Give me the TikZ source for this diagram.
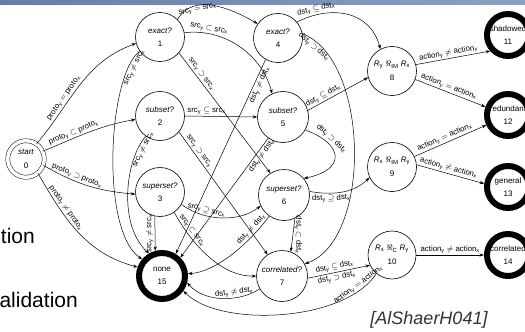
\documentclass[tikz,border=0pt]{standalone}
\usepackage{fontspec}
\setmainfont{Liberation Sans}
\usetikzlibrary{arrows.meta}
\definecolor{bandL}{RGB}{100,126,170}
\definecolor{bandR}{RGB}{140,160,196}
\newcommand{\rl}[2]{#1\textsubscript{y}~$#2$~#1\textsubscript{x}}
\begin{document}
\begin{tikzpicture}[x=1pt,y=-1pt,
  st/.style={circle,draw,line width=0.6pt,minimum size=49pt,inner sep=0pt,align=center,font=\fontsize{8}{13.5}\selectfont},
  fin/.style={circle,draw,line width=6pt,minimum size=42pt,inner sep=0pt,align=center,font=\fontsize{8}{13.5}\selectfont},
  lab/.style={font=\fontsize{7.8}{8}\selectfont,inner sep=1.2pt,sloped},
  labr/.style={font=\fontsize{7.8}{8}\selectfont,inner sep=1.2pt},
  arr/.style={line width=0.5pt,-{Stealth[length=4.5pt,width=3.2pt]}}]
\useasboundingbox (0,0) rectangle (525,332);
\clip (0,0) rectangle (525,332);
\fill[white] (0,0) rectangle (525,332);
\shade[left color=bandL,right color=bandR] (0,0) rectangle (525,4);
% slide text
\node[anchor=base east,inner sep=0pt,font=\fontsize{21}{21}\selectfont] (t1) at (35,243) {tion};
\node[anchor=base east,inner sep=0pt,font=\fontsize{21}{21}\selectfont] (t2) at (78,307) {alidation};
\node[anchor=base,inner sep=0pt,font=\itshape\fontsize{18}{18}\selectfont,text=black!80] (cite) at (429,324) {[AlShaerH041]};
% states
\node[circle,draw,line width=0.5pt,double,double distance=3.5pt,minimum size=36.5pt,inner sep=0pt,align=center,font=\fontsize{8}{13.5}\selectfont] (n0) at (26,159) {\textit{start}\\0};
\node[st] (n1) at (160,37) {\textit{exact?}\\1};
\node[st] (n2) at (160,116) {\textit{subset?}\\2};
\node[st] (n3) at (160,192) {\textit{superset?}\\3};
\node[fin,minimum size=46pt] (n15) at (162,276) {none\\15};
\node[st] (n4) at (278,38) {\textit{exact?}\\4};
\node[st,minimum size=51pt] (n5) at (283,117) {\textit{subset?}\\5};
\node[st,minimum size=51pt] (n6) at (284,195) {\textit{superset?}\\6};
\node[st,minimum size=51pt] (n7) at (282,276) {\textit{correlated?}\\7};
\node[st] (n8) at (392,71) {\textit{R}\textsubscript{y} $\Re$\textsubscript{IM} \textit{R}\textsubscript{x}\\8};
\node[st] (n9) at (392,167) {\textit{R}\textsubscript{x} $\Re$\textsubscript{IM} \textit{R}\textsubscript{y}\\9};
\node[st,minimum size=48pt] (n10) at (392,255) {\textit{R}\textsubscript{x} $\Re$\textsubscript{C} \textit{R}\textsubscript{y}\\10};
\node[fin] (n11) at (508,35) {shadowed\\11};
\node[fin] (n12) at (508,115) {redundant\\12};
\node[fin] (n13) at (508,187) {general\\13};
\node[fin] (n14) at (508,255) {correlated\\14};
% from start
\draw[arr] (n0.55) to[out=50,in=200] node[lab,above,pos=0.35]{\rl{proto}{=}} (n1.195);
\draw[arr] (n0.25) to[out=22,in=190] node[lab,above,pos=0.35]{\rl{proto}{\subset}} (n2.188);
\draw[arr] (n0.-20) to[out=-30,in=175] node[lab,above,pos=0.35]{\rl{proto}{\supset}} (n3.185);
\draw[arr] (n0.-50) to[out=-60,in=165] node[lab,above,pos=0.3]{\rl{proto}{\neq}} (n15.160);
% from 1
\draw[arr] (n1.45) to[out=60,in=150] node[lab,below,pos=0.3]{\rl{src}{=}} (n4.145);
\draw[arr] (n1.10) .. controls (225,28) and (262,55) .. (n5.115) node[lab,above,pos=0.2]{\rl{src}{\subset}};
\draw[arr] (n1.-40) -- node[lab,above,pos=0.2]{\rl{src}{\supset}} (n6.122);
\draw[arr] (n1.215) .. controls (108,75) and (100,230) .. (n15.140) node[lab,below,pos=0.12]{\rl{src}{\neq}};
% from 2
\draw[arr] (n2.east) -- node[lab,above,pos=0.3]{\rl{src}{\subseteq}} (n5.west);
\draw[arr] (n2.-40) -- node[lab,above,pos=0.18]{\rl{src}{\supset}} (n7.124);
\draw[arr] (n2.235) .. controls (125,160) and (118,225) .. (n15.120) node[lab,below,pos=0.13]{\rl{src}{\neq}};
% from 3
\draw[arr] (n3.-30) .. controls (205,222) and (240,222) .. (n6.205) node[lab,above,pos=0.3]{\rl{src}{\supseteq}};
\draw[arr] (n3.-55) .. controls (195,250) and (225,277) .. (n7.180) node[lab,above,pos=0.2]{\rl{src}{\subset}};
\draw[arr] (n3.258) -- node[labr,rotate=90,anchor=south]{\rl{src}{\neq}} (n15.105);
% from 4
\draw[arr] (n4.40) .. controls (330,5) and (370,10) .. (n8.118) node[lab,above,pos=0.2]{\rl{dst}{\subseteq}};
\draw[arr] (n4.10) .. controls (370,60) and (372,240) .. (n7.28) node[lab,below,pos=0.08]{\rl{dst}{\supset}};
\draw[arr] (n4.240) -- (n15.58) node[lab,below,pos=0.12]{\rl{dst}{\neq}};
% from 5
\draw[arr] (n5.15) -- node[lab,above,pos=0.3]{\rl{dst}{\subseteq}} (n8.195);
\draw[arr] (n5.-30) .. controls (345,145) and (345,170) .. (n6.40) node[lab,above,pos=0.25]{\rl{dst}{\supset}};
\draw[arr] (n5.235) -- (n15.45) node[lab,below,pos=0.12]{\rl{dst}{\neq}};
% from 6
\draw[arr] (n6.8) .. controls (335,196) and (355,192) .. (n9.205) node[lab,below,pos=0.3]{\rl{dst}{\supseteq}};
\draw[arr] (n6.-65) -- node[labr,rotate=-90,anchor=south]{\rl{dst}{\subset}} (n7.70);
\draw[arr] (n6.235) .. controls (248,245) and (215,272) .. (n15.5) node[lab,above,pos=0.2]{\rl{dst}{\neq}};
% from 7
\draw[arr] (n7.-5) -- node[lab,above,pos=0.45]{\rl{dst}{\subseteq}} node[lab,below,pos=0.45]{\rl{dst}{\supset}} (n10.205);
\draw[arr] (n7.210) .. controls (240,302) and (205,303) .. (n15.-15) node[lab,above,pos=0.35]{\rl{dst}{\neq}};
% from 8, 9, 10
\draw[arr] (n8.15) -- node[lab,above,pos=0.45]{\rl{action}{\neq}} (n11.222);
\draw[arr] (n8.-20) -- node[lab,above,pos=0.45]{\rl{action}{=}} (n12.160);
\draw[arr] (n9.25) -- node[lab,above,pos=0.45]{\rl{action}{=}} (n12.205);
\draw[arr] (n9.5) -- node[lab,above,pos=0.45]{\rl{action}{\neq}} (n13.172);
\draw[arr] (n10.east) -- node[lab,above]{\rl{action}{\neq}} (n14.west);
\draw[arr] (n10.230) .. controls (345,322) and (220,328) .. (n15.-35) node[lab,above,pos=0.12]{\rl{action}{=}};
\end{tikzpicture}
\end{document}
